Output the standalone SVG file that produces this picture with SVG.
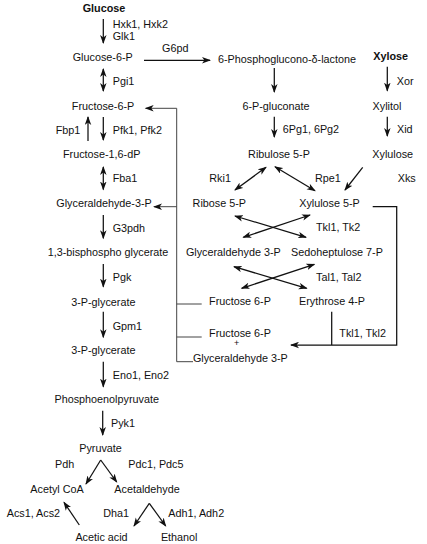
<svg xmlns="http://www.w3.org/2000/svg" width="427" height="544" viewBox="0 0 427 544">
<style>
text{font-family:"Liberation Sans",Arial,sans-serif;font-size:10.8px;fill:#111}
.b{font-weight:bold}
.m{text-anchor:middle}
.l{stroke:#111;stroke-width:1.25;fill:none}
.g{stroke:#444;stroke-width:1;fill:none}
.a{marker-end:url(#h)}
.d{marker-start:url(#h);marker-end:url(#h)}
</style>
<defs>
<marker id="h" markerUnits="userSpaceOnUse" markerWidth="10" markerHeight="7" refX="8" refY="3.25" orient="auto-start-reverse" viewBox="0 0 10 6.5">
<path d="M0,0 L9,3.25 L0,6.5 L2.4,3.25 z" fill="#111"/>
</marker>
</defs>
<rect width="427" height="544" fill="#fff"/>
<g id="connectors">
<line class="l a" x1="103.3" y1="19" x2="103.3" y2="43"/>
<line class="l a" x1="144" y1="60.3" x2="210" y2="60.3"/>
<line class="l d" x1="103.3" y1="69" x2="103.3" y2="91"/>
<line class="l a" x1="103.3" y1="117" x2="103.3" y2="140"/>
<line class="l a" x1="88" y1="141" x2="88" y2="117"/>
<line class="l d" x1="103.3" y1="167" x2="103.3" y2="189.5"/>
<line class="l a" x1="103.3" y1="215" x2="103.3" y2="238.3"/>
<line class="l a" x1="103.3" y1="264" x2="103.3" y2="286.7"/>
<line class="l a" x1="103.3" y1="311.7" x2="103.3" y2="337.3"/>
<line class="l a" x1="103.3" y1="361.7" x2="103.3" y2="386.7"/>
<line class="l a" x1="102.7" y1="410.7" x2="102.7" y2="435"/>
<line class="l a" x1="100.7" y1="460" x2="86" y2="484"/>
<line class="l a" x1="100.7" y1="460" x2="116.7" y2="482"/>
<line class="l a" x1="149.3" y1="503.3" x2="134" y2="526"/>
<line class="l a" x1="149.3" y1="503.3" x2="165.7" y2="526"/>
<line class="l a" x1="79.3" y1="525" x2="64" y2="502.3"/>
<line class="l a" x1="274.3" y1="68" x2="274.3" y2="92"/>
<line class="l a" x1="274.3" y1="116.7" x2="274.3" y2="137"/>
<line class="l a" x1="387.3" y1="66.7" x2="387.3" y2="90.7"/>
<line class="l a" x1="387.3" y1="116.7" x2="387.3" y2="136"/>
<line class="l d" x1="266" y1="167.3" x2="235" y2="190"/>
<line class="l d" x1="275" y1="166.7" x2="315" y2="190.7"/>
<line class="l a" x1="362.7" y1="167.3" x2="345" y2="190"/>
<line class="l d" x1="235" y1="216" x2="306" y2="237.3"/>
<line class="l d" x1="310" y1="215" x2="243.3" y2="237.3"/>
<line class="l d" x1="234" y1="266.7" x2="306.7" y2="288.3"/>
<line class="l d" x1="314.3" y1="264.3" x2="241.7" y2="288.3"/>
<path class="l a" d="M372.7,206.7 H396.7 V345 H291"/>
<line class="l" x1="331.7" y1="311.7" x2="331.7" y2="345"/>
<path class="g" d="M176.7,108.3 V361.7 H193"/>
<line class="g a" x1="176.7" y1="108.3" x2="145.7" y2="108.3"/>
<line class="g a" x1="176.7" y1="206.7" x2="154" y2="206.7"/>
<line class="g" x1="176.7" y1="304" x2="201.7" y2="304"/>
<line class="g" x1="176.7" y1="337" x2="201.7" y2="337"/>
</g>
<g id="n-glucose"><text class="b m" x="104" y="12">Glucose</text></g>
<g id="l-hxk"><text x="112.7" y="28">Hxk1, Hxk2</text><text x="112.7" y="40">Glk1</text></g>
<g id="n-g6p"><text class="m" x="102.7" y="60.5">Glucose-6-P</text></g>
<g id="l-g6pd"><text x="162" y="52">G6pd</text></g>
<g id="n-lactone"><text class="m" x="287" y="63">6-Phosphoglucono-δ-lactone</text></g>
<g id="n-xylose"><text class="b m" x="390.7" y="60">Xylose</text></g>
<g id="l-xor"><text x="396.7" y="85">Xor</text></g>
<g id="n-xylitol"><text class="m" x="387" y="110">Xylitol</text></g>
<g id="l-xid"><text x="397" y="133">Xid</text></g>
<g id="n-6pg"><text class="m" x="276" y="110">6-P-gluconate</text></g>
<g id="l-6pg"><text x="282.7" y="133">6Pg1, 6Pg2</text></g>
<g id="l-pgi"><text x="112.7" y="85">Pgi1</text></g>
<g id="n-f6p"><text class="m" x="103" y="110">Fructose-6-P</text></g>
<g id="l-fbp"><text x="55.7" y="134">Fbp1</text></g>
<g id="l-pfk"><text x="112.7" y="134">Pfk1, Pfk2</text></g>
<g id="n-f16dp"><text class="m" x="101.7" y="158">Fructose-1,6-dP</text></g>
<g id="l-fba"><text x="112.7" y="182">Fba1</text></g>
<g id="n-g3p"><text class="m" x="104" y="206.5">Glyceraldehyde-3-P</text></g>
<g id="l-g3pdh"><text x="112.7" y="232">G3pdh</text></g>
<g id="n-bpg"><text class="m" x="108" y="256">1,3-bisphospho glycerate</text></g>
<g id="l-pgk"><text x="112.7" y="280.5">Pgk</text></g>
<g id="n-3pg1"><text class="m" x="103.3" y="305.5">3-P-glycerate</text></g>
<g id="l-gpm"><text x="112.7" y="329.5">Gpm1</text></g>
<g id="n-3pg2"><text class="m" x="103.3" y="354">3-P-glycerate</text></g>
<g id="l-eno"><text x="112.7" y="379">Eno1, Eno2</text></g>
<g id="n-pep"><text class="m" x="106.7" y="403">Phosphoenolpyruvate</text></g>
<g id="l-pyk"><text x="111" y="427">Pyk1</text></g>
<g id="n-pyruvate"><text class="m" x="100.5" y="452">Pyruvate</text></g>
<g id="l-pdh"><text x="55" y="468">Pdh</text></g>
<g id="l-pdc"><text x="128.3" y="468">Pdc1, Pdc5</text></g>
<g id="n-acetylcoa"><text class="m" x="57" y="493">Acetyl CoA</text></g>
<g id="n-acetaldehyde"><text class="m" x="147" y="493">Acetaldehyde</text></g>
<g id="l-acs"><text x="6.7" y="517">Acs1, Acs2</text></g>
<g id="l-dha"><text x="103.3" y="517">Dha1</text></g>
<g id="l-adh"><text x="168.3" y="517">Adh1, Adh2</text></g>
<g id="n-acetic"><text class="m" x="101.5" y="540.5">Acetic acid</text></g>
<g id="n-ethanol"><text class="m" x="179.2" y="540.5">Ethanol</text></g>
<g id="n-ribulose5p"><text class="m" x="279" y="158">Ribulose 5-P</text></g>
<g id="n-xylulose"><text class="m" x="392.7" y="158">Xylulose</text></g>
<g id="l-rki"><text x="209.3" y="182">Rki1</text></g>
<g id="l-rpe"><text x="315" y="182">Rpe1</text></g>
<g id="l-xks"><text x="397.7" y="182">Xks</text></g>
<g id="n-ribose5p"><text class="m" x="219.3" y="206.5">Ribose 5-P</text></g>
<g id="n-xylulose5p"><text class="m" x="329.5" y="206.5">Xylulose 5-P</text></g>
<g id="l-tkl1"><text x="316" y="231">Tkl1, Tk2</text></g>
<g id="n-ga3p"><text class="m" x="233.3" y="255.5">Glyceraldehyde 3-P</text></g>
<g id="n-s7p"><text class="m" x="337" y="255.5">Sedoheptulose 7-P</text></g>
<g id="l-tal"><text x="316" y="280.5">Tal1, Tal2</text></g>
<g id="n-f6p-b"><text class="m" x="240" y="305">Fructose 6-P</text></g>
<g id="n-e4p"><text class="m" x="332" y="305">Erythrose 4-P</text></g>
<g id="l-tkl2"><text x="339.3" y="336.5">Tkl1, Tkl2</text></g>
<g id="n-f6p-ga3p"><text class="m" x="240" y="336.5">Fructose 6-P</text><text class="m" x="236.7" y="346" style="font-size:9px">+</text><text class="m" x="240.3" y="362">Glyceraldehyde 3-P</text></g>
</svg>
